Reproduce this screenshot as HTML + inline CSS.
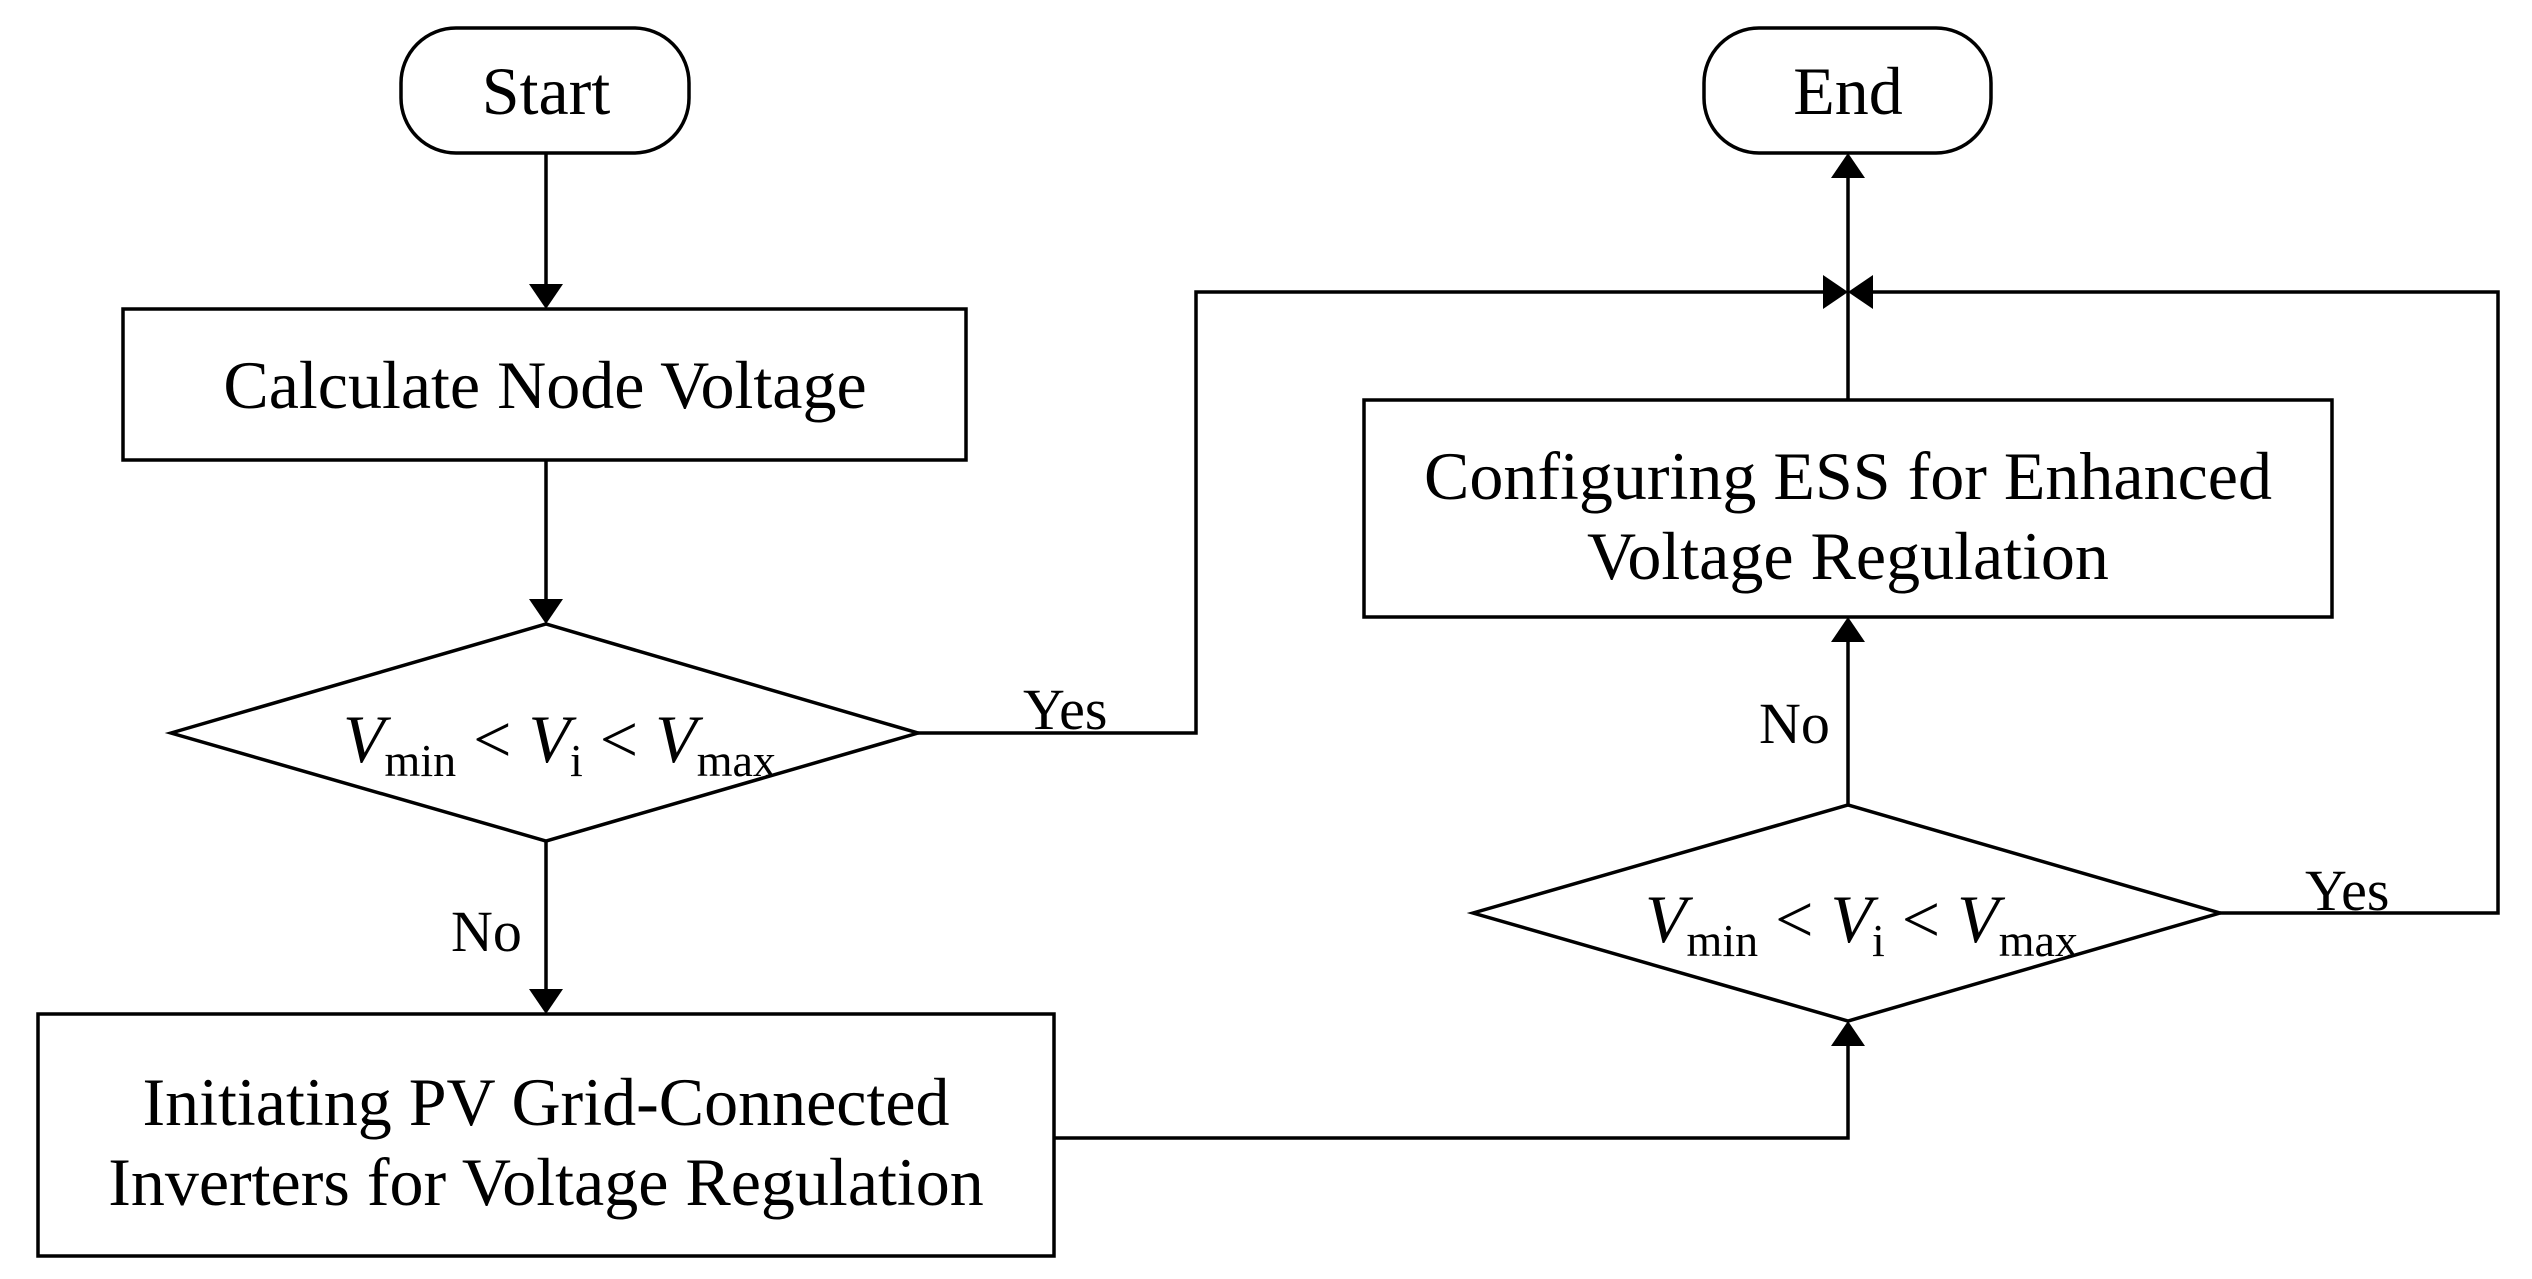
<!DOCTYPE html>
<html><head><meta charset="utf-8"><style>
html,body{margin:0;padding:0;background:#fff;}
svg{display:block;}
text{font-family:"Liberation Serif",serif;fill:#000;}
</style></head><body>
<svg width="2532" height="1279" viewBox="0 0 2532 1279" xmlns="http://www.w3.org/2000/svg">
<g fill="none" stroke="#000" stroke-width="3.5">
<rect x="401" y="28" width="288" height="125" rx="55"/>
<rect x="1704" y="28" width="287" height="125" rx="55"/>
<rect x="123" y="309" width="843" height="151"/>
<polygon points="171,733 546,624 918,733 546,841"/>
<rect x="38" y="1014" width="1016" height="242"/>
<rect x="1364" y="400" width="968" height="217"/>
<polygon points="1473,913 1848,805 2220,913 1848,1021"/>
<line x1="546" y1="153" x2="546" y2="290"/>
<line x1="546" y1="460" x2="546" y2="604"/>
<line x1="546" y1="841" x2="546" y2="994"/>
<polyline points="918,733 1196,733 1196,292 1830,292"/>
<polyline points="2220,913 2498,913 2498,292 1866,292"/>
<line x1="1848" y1="400" x2="1848" y2="175"/>
<line x1="1848" y1="805" x2="1848" y2="640"/>
<polyline points="1054,1138 1848,1138 1848,1044"/>
</g>
<g fill="#000">
<polygon points="529,284 563,284 546,309"/>
<polygon points="529,599 563,599 546,624"/>
<polygon points="529,989 563,989 546,1014"/>
<polygon points="1831,178 1865,178 1848,153"/>
<polygon points="1823,275 1848,292 1823,309"/>
<polygon points="1873,275 1848,292 1873,309"/>
<polygon points="1831,642 1865,642 1848,617"/>
<polygon points="1831,1046 1865,1046 1848,1021"/>
</g>
<g font-size="68" text-anchor="middle">
<text x="546" y="114">Start</text>
<text x="1848" y="114">End</text>
<text x="545" y="408">Calculate Node Voltage</text>
<text x="546" y="1125">Initiating PV Grid-Connected</text>
<text x="546" y="1205">Inverters for Voltage Regulation</text>
<text x="1848" y="499">Configuring ESS for Enhanced</text>
<text x="1848" y="579">Voltage Regulation</text>
</g>
<g font-size="58">
<text x="1023" y="729">Yes</text>
<text x="2305" y="910">Yes</text>
<text x="451" y="951">No</text>
<text x="1759" y="743">No</text>
</g>
<g font-size="68">
<text x="343" y="762"><tspan font-style="italic">V</tspan><tspan font-size="46" dy="14">min</tspan><tspan dy="-14"> &lt; </tspan><tspan font-style="italic">V</tspan><tspan font-size="46" dy="14">i</tspan><tspan dy="-14"> &lt; </tspan><tspan font-style="italic">V</tspan><tspan font-size="46" dy="14">max</tspan></text>
<text x="1645" y="942"><tspan font-style="italic">V</tspan><tspan font-size="46" dy="14">min</tspan><tspan dy="-14"> &lt; </tspan><tspan font-style="italic">V</tspan><tspan font-size="46" dy="14">i</tspan><tspan dy="-14"> &lt; </tspan><tspan font-style="italic">V</tspan><tspan font-size="46" dy="14">max</tspan></text>
</g>
</svg>
</body></html>
